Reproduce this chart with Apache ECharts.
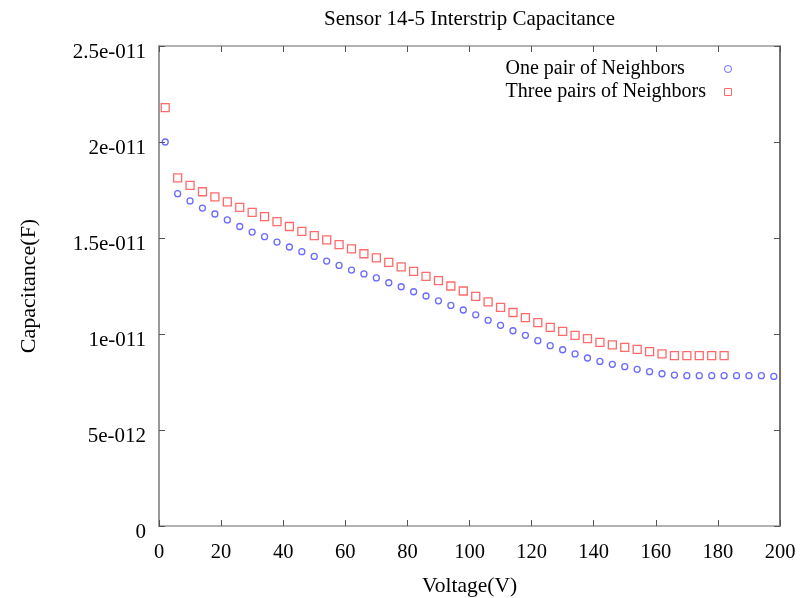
<!DOCTYPE html>
<html>
<head>
<meta charset="utf-8">
<script src="https://cdn.jsdelivr.net/npm/echarts@6/dist/echarts.min.js"></script>
<style>html,body{margin:0;padding:0;background:#fff}#c{width:803px;height:598px}</style>
</head>
<body>
<div id="c"></div>
<script>
const titleText = "Sensor 14-5 Interstrip Capacitance";
const xName = "Voltage(V)";
const yName = "Capacitance(F)";
const seriesNames = ["One pair of Neighbors", "Three pairs of Neighbors"];
const yTickLabels = {"0": "0", "5e-12": "5e-012", "1e-11": "1e-011", "1.5e-11": "1.5e-011", "2e-11": "2e-011", "2.5e-11": "2.5e-011"};

const voltOne = [2,6,10,14,18,22,26,30,34,38,42,46,50,54,58,62,66,70,74,78,82,86,90,94,98,102,106,110,114,118,122,126,130,134,138,142,146,150,154,158,162,166,170,174,178,182,186,190,194,198];
const capOne = [2.000,1.731,1.693,1.656,1.625,1.594,1.560,1.531,1.507,1.479,1.453,1.429,1.404,1.380,1.357,1.333,1.313,1.292,1.267,1.246,1.220,1.198,1.173,1.149,1.125,1.100,1.071,1.045,1.017,0.993,0.965,0.939,0.918,0.896,0.875,0.857,0.842,0.830,0.816,0.804,0.793,0.786,0.783,0.783,0.783,0.783,0.783,0.783,0.783,0.779];
const voltThree = [2,6,10,14,18,22,26,30,34,38,42,46,50,54,58,62,66,70,74,78,82,86,90,94,98,102,106,110,114,118,122,126,130,134,138,142,146,150,154,158,162,166,170,174,178,182];
const capThree = [2.179,1.813,1.774,1.741,1.714,1.688,1.659,1.633,1.611,1.585,1.560,1.534,1.512,1.490,1.465,1.443,1.418,1.397,1.373,1.350,1.326,1.300,1.278,1.250,1.224,1.196,1.167,1.139,1.112,1.085,1.059,1.034,1.014,0.993,0.976,0.956,0.943,0.930,0.920,0.908,0.897,0.887,0.887,0.887,0.887,0.887];
const capScale = 1e-11;

const font = "'Liberation Serif', 'DejaVu Serif', serif";
const chart = echarts.init(document.getElementById('c'), null, {renderer: 'canvas'});

function yLabel(v) {
  const key = String(Number(v.toPrecision(6)));
  return yTickLabels[key] !== undefined ? yTickLabels[key] : '';
}

const dataOne = voltOne.map((v, i) => [v, capOne[i] * capScale]);
const dataThree = voltThree.map((v, i) => [v, capThree[i] * capScale]);

const xCommon = {type: 'value', min: 0, max: 200, interval: 20, splitLine: {show: false}};
const yCommon = {type: 'value', min: 0, max: 2.5e-11, interval: 5e-12, splitLine: {show: false}};
const blue = '#4545ff';
const red = '#ff4545';

chart.setOption({
  animation: false,
  backgroundColor: '#fff',
  title: {
    text: titleText, left: 319, top: 4,
    textStyle: {fontFamily: font, fontSize: 21, fontWeight: 'normal', color: '#000'}
  },
  legend: {
    orient: 'vertical', right: 66, top: 54, align: 'right',
    itemWidth: 7, itemHeight: 7, itemGap: 3,
    formatter: function (name) { return '{t|' + name + '}'; },
    textStyle: {
      fontFamily: font, fontSize: 20, color: '#000',
      rich: {t: {fontFamily: font, fontSize: 20, color: '#000', width: 214, align: 'left'}}
    },
    data: [
      {name: seriesNames[0], icon: 'circle', itemStyle: {color: 'rgba(255,255,255,0)', borderColor: blue, borderWidth: 1}},
      {name: seriesNames[1], icon: 'rect', itemStyle: {color: 'rgba(255,255,255,0)', borderColor: red, borderWidth: 1}}
    ]
  },
  grid: {left: 159, right: 23, top: 46, bottom: 72, containLabel: false, outerBoundsMode: 'none'},
  xAxis: [
    Object.assign({}, xCommon, {
      position: 'bottom',
      name: xName, nameLocation: 'middle', nameGap: 49,
      nameTextStyle: {fontFamily: font, fontSize: 21.5, color: '#000'},
      axisLine: {show: true, lineStyle: {color: '#999', width: 1.5}},
      axisTick: {show: true, inside: true, length: 6, lineStyle: {color: '#555'}},
      axisLabel: {fontFamily: font, fontSize: 20.5, color: '#000', margin: 16}
    }),
    Object.assign({}, xCommon, {
      position: 'top',
      axisLine: {show: true, onZero: false, lineStyle: {color: '#999', width: 1.5}},
      axisTick: {show: true, inside: true, length: 6, lineStyle: {color: '#555'}},
      axisLabel: {show: false}
    })
  ],
  yAxis: [
    Object.assign({}, yCommon, {
      position: 'left',
      name: yName, nameLocation: 'middle', nameGap: 119, nameRotate: 90,
      nameTextStyle: {fontFamily: font, fontSize: 22, color: '#000'},
      axisLine: {show: true, lineStyle: {color: '#999', width: 2}},
      axisTick: {show: true, inside: true, length: 6, lineStyle: {color: '#555'}},
      axisLabel: {fontFamily: font, fontSize: 21, color: '#000', margin: 13, verticalAlign: 'top', lineHeight: 13, formatter: yLabel}
    }),
    Object.assign({}, yCommon, {
      position: 'right',
      axisLine: {show: true, onZero: false, lineStyle: {color: '#444', width: 1.5}},
      axisTick: {show: true, inside: true, length: 6, lineStyle: {color: '#555'}},
      axisLabel: {show: false}
    })
  ],
  series: [
    {
      name: seriesNames[0], type: 'scatter', xAxisIndex: 0, yAxisIndex: 0,
      symbol: 'circle', symbolSize: 6,
      itemStyle: {color: 'rgba(255,255,255,0)', borderColor: blue, borderWidth: 1.3},
      data: dataOne
    },
    {
      name: seriesNames[1], type: 'scatter', xAxisIndex: 0, yAxisIndex: 0,
      symbol: 'rect', symbolSize: 8,
      itemStyle: {color: 'rgba(255,255,255,0)', borderColor: red, borderWidth: 1.3},
      data: dataThree
    }
  ]
});
</script>
</body>
</html>
